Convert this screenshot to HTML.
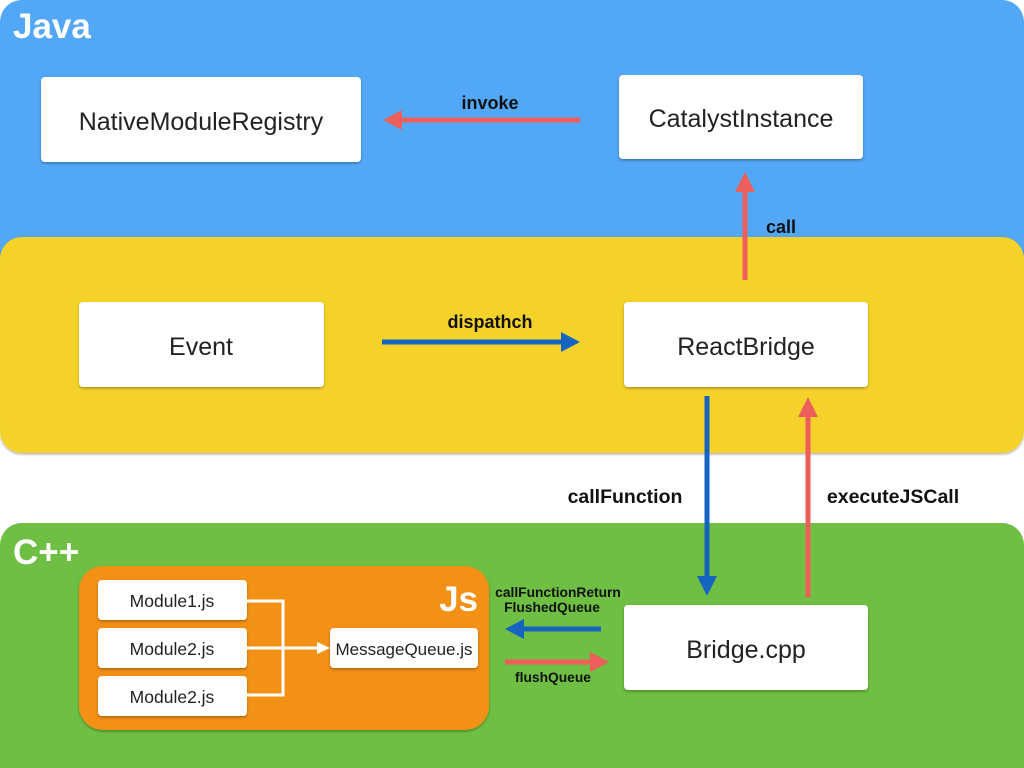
<!DOCTYPE html>
<html><head><meta charset="utf-8"><style>
html,body{margin:0;padding:0;background:#fff;}
svg{display:block;}
text{font-family:"Liberation Sans",sans-serif;}
</style></head><body>
<svg width="1024" height="768" viewBox="0 0 1024 768" xmlns="http://www.w3.org/2000/svg">
<defs>
<filter id="sh" x="-10%" y="-10%" width="120%" height="130%"><feDropShadow dx="0" dy="1.5" stdDeviation="1.2" flood-color="#000" flood-opacity="0.3"/></filter>
</defs>
<rect x="0" y="0" width="1024" height="300" rx="22" fill="#52a7f7"/>
<rect x="0" y="237" width="1024" height="216" rx="22" fill="#f4d22b" filter="url(#sh)"/>
<rect x="0" y="523" width="1024" height="270" rx="22" fill="#6ebf43"/>
<text x="13" y="38" font-size="35" font-weight="bold" fill="#fff">Java</text>
<text x="13" y="564" font-size="35" font-weight="bold" fill="#fff">C++</text>

<g filter="url(#sh)" fill="#fff">
<rect x="41" y="77" width="320" height="85" rx="4"/>
<rect x="619" y="75" width="244" height="84" rx="4"/>
<rect x="79" y="302" width="245" height="85" rx="4"/>
<rect x="624" y="302" width="244" height="85" rx="4"/>
<rect x="624" y="605" width="244" height="85" rx="4"/>
</g>
<g font-size="25" fill="#222" text-anchor="middle">
<text x="201" y="130">NativeModuleRegistry</text>
<text x="741" y="127">CatalystInstance</text>
<text x="201" y="355">Event</text>
<text x="746" y="355">ReactBridge</text>
<text x="746" y="658">Bridge.cpp</text>
</g>

<rect x="79" y="566" width="410" height="164" rx="24" fill="#f39019" filter="url(#sh)"/>
<text x="478" y="611" font-size="35" font-weight="bold" fill="#fff" text-anchor="end">Js</text>
<g fill="#fff" filter="url(#sh)">
<rect x="98" y="580" width="149" height="40" rx="4"/>
<rect x="98" y="628" width="149" height="40" rx="4"/>
<rect x="98" y="676" width="149" height="40" rx="4"/>
<rect x="330" y="628" width="148" height="40" rx="4"/>
</g>
<g font-size="17.5" fill="#222" text-anchor="middle">
<text x="172" y="607">Module1.js</text>
<text x="172" y="655">Module2.js</text>
<text x="172" y="703">Module2.js</text>
<text x="404" y="655" font-size="17">MessageQueue.js</text>
</g>
<g stroke="#fff" stroke-width="3" fill="none">
<polyline points="247,601 283,601 283,695 247,695"/>
<line x1="247" y1="648" x2="318" y2="648"/>
</g>
<polygon points="317,642 330,648 317,654" fill="#fff"/>

<g stroke-width="5" fill="none">
<line x1="580" y1="120" x2="398" y2="120" stroke="#ee5f5b"/>
<line x1="745" y1="280" x2="745" y2="190" stroke="#ee5f5b"/>
<line x1="382" y1="342" x2="565" y2="342" stroke="#1565c0"/>
<line x1="707" y1="396" x2="707" y2="578" stroke="#1565c0"/>
<line x1="808" y1="597" x2="808" y2="415" stroke="#ee5f5b"/>
<line x1="601" y1="629" x2="522" y2="629" stroke="#1565c0"/>
<line x1="505" y1="662" x2="592" y2="662" stroke="#ee5f5b"/>
</g>
<polygon points="383,120 402,110 402,130" fill="#ee5f5b"/>
<polygon points="745,172 735,192 755,192" fill="#ee5f5b"/>
<polygon points="580,342 561,332 561,352" fill="#1565c0"/>
<polygon points="707,596 697,576 717,576" fill="#1565c0"/>
<polygon points="808,397 798,417 818,417" fill="#ee5f5b"/>
<polygon points="505,629 524,619 524,639" fill="#1565c0"/>
<polygon points="609,662 590,652 590,672" fill="#ee5f5b"/>

<g font-weight="bold" fill="#111" text-anchor="middle">
<text x="490" y="109" font-size="18">invoke</text>
<text x="781" y="233" font-size="18">call</text>
<text x="490" y="328" font-size="18">dispathch</text>
<text x="625" y="503" font-size="19.5">callFunction</text>
<text x="893" y="503" font-size="19.5">executeJSCall</text>
<text x="558" y="597" font-size="13.8">callFunctionReturn</text>
<text x="552" y="612" font-size="13.8">FlushedQueue</text>
<text x="553" y="682" font-size="13.8">flushQueue</text>
</g>
</svg>
</body></html>
